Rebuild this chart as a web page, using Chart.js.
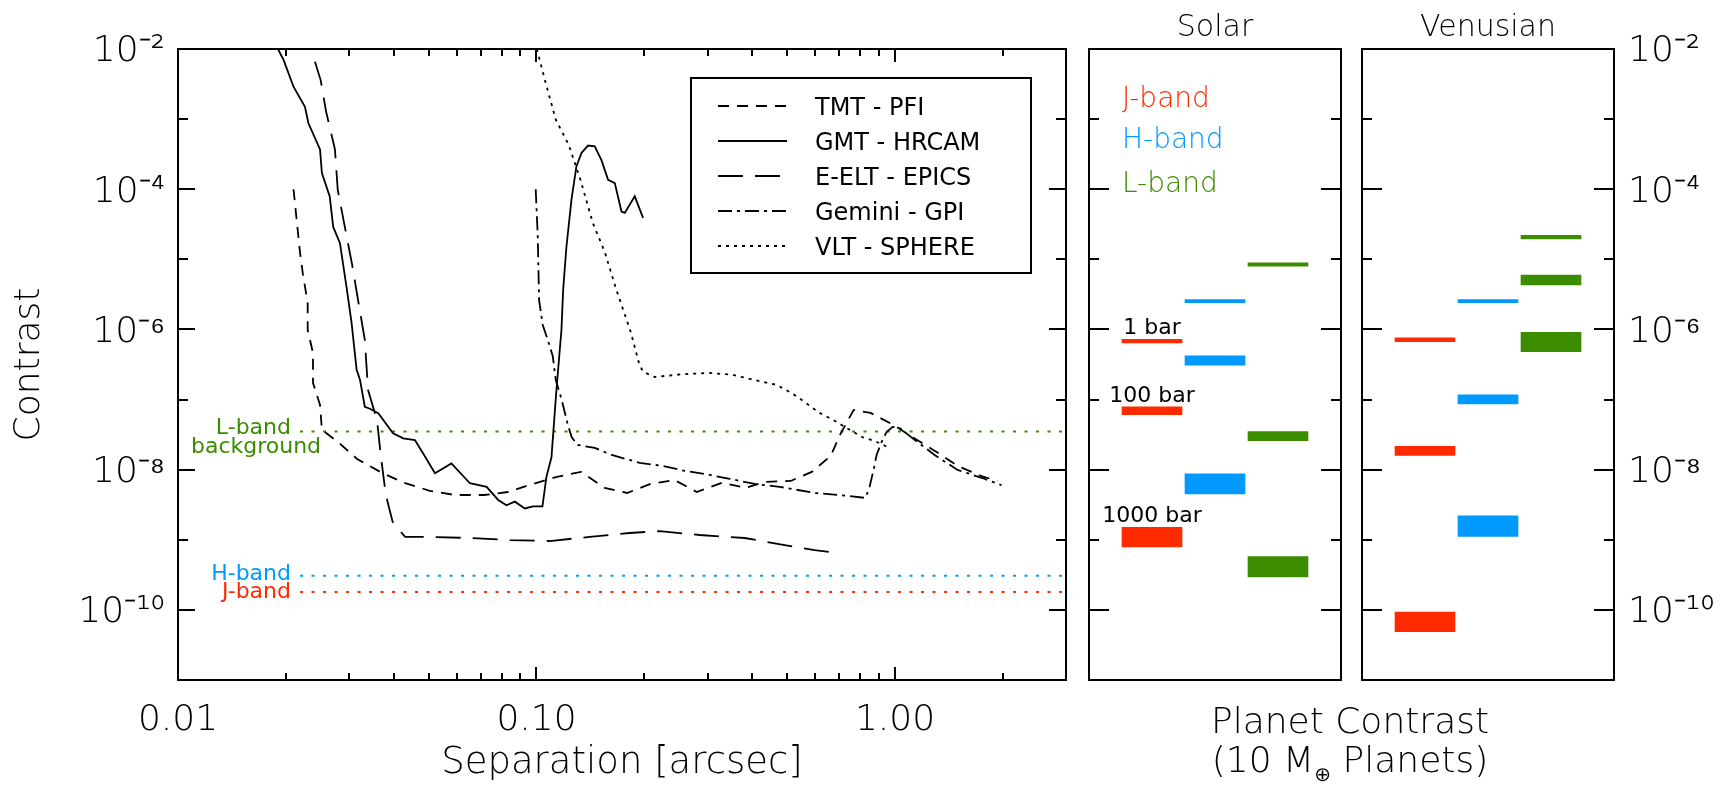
<!DOCTYPE html>
<html>
<head>
<meta charset="utf-8">
<script src="https://cdn.jsdelivr.net/npm/chart.js@4.4.1/dist/chart.umd.min.js"></script>
<style>
html,body{margin:0;padding:0;background:#fff;}
#wrap{position:relative;width:1730px;height:788px;background:#fff;}
canvas{position:absolute;left:0;top:0;}
</style>
</head>
<body>
<div id="wrap">
<canvas id="main" width="1730" height="788"></canvas>
<canvas id="solar" width="1730" height="788"></canvas>
<canvas id="venus" width="1730" height="788"></canvas>
</div>
<script>
// ---------------- data ----------------
const tmtSep = [0.0210,0.0219,0.0223,0.0230,0.0230,0.0238,0.0238,0.0249,0.0252,0.0279,0.0316,0.0371,0.0427,0.0504,0.0592,0.0713,0.0832,0.0976,0.114,0.133,0.155,0.179,0.208,0.243,0.280,0.329,0.383,0.433,0.512,0.586,0.662,0.706,0.767,0.855,0.991,1.127,1.306,1.495,1.744,1.93];
const tmtContrast = [1.0e-4,1.24e-5,6.2e-6,2.4e-6,9.9e-7,4.6e-7,1.73e-7,8.4e-8,3.7e-8,2.5e-8,1.42e-8,9.0e-9,6.5e-9,5.0e-9,4.35e-9,4.35e-9,4.8e-9,6.25e-9,7.9e-9,9.3e-9,5.5e-9,4.65e-9,6.25e-9,7.1e-9,4.8e-9,6.5e-9,5.5e-9,6.7e-9,6.9e-9,9.3e-9,1.57e-8,3.3e-8,7.1e-8,6.45e-8,4.35e-8,2.84e-8,1.79e-8,1.13e-8,8.1e-9,6.9e-9];

const gmtSep = [0.0190,0.0197,0.0210,0.0226,0.0231,0.0249,0.0252,0.0265,0.0271,0.0283,0.0295,0.0305,0.0315,0.0322,0.0332,0.0343,0.0362,0.0398,0.0425,0.0458,0.0483,0.0521,0.0579,0.0652,0.0726,0.0782,0.0825,0.0870,0.0928,0.0978,0.1039,0.1066,0.1101,0.1137,0.1174,0.1187,0.1212,0.1252,0.1292,0.1335,0.1393,0.1454,0.1518,0.1584,0.1654,0.1726,0.1763,0.1880,0.1983];
const gmtContrast = [1e-2,7.0e-3,2.9e-3,1.5e-3,8.8e-4,3.7e-4,1.7e-4,7.9e-5,2.9e-5,1.7e-5,4.1e-6,1.23e-6,2.65e-7,1.9e-7,7.9e-8,7.4e-8,6.4e-8,3.3e-8,2.8e-8,2.65e-8,1.7e-8,8.9e-9,1.23e-8,6.4e-9,5.7e-9,3.7e-9,3.1e-9,3.5e-9,2.8e-9,3.0e-9,3.0e-9,7.9e-9,1.5e-8,1.4e-7,9.9e-7,3.7e-6,1.5e-5,7.1e-5,2.1e-4,3.3e-4,4.2e-4,4.1e-4,2.6e-4,1.36e-4,1.22e-4,4.8e-5,4.6e-5,7.9e-5,3.9e-5];

const eeltSep = [0.0241,0.0250,0.0259,0.0274,0.0279,0.0292,0.0306,0.0318,0.0332,0.0339,0.0359,0.0368,0.0380,0.0397,0.0430,0.0504,0.0652,0.0843,0.1089,0.1408,0.1820,0.2207,0.2853,0.3808,0.4923,0.5970,0.6875];
const eeltContrast = [6.6e-3,3.6e-3,1.27e-3,3.7e-4,9.8e-5,2.9e-5,8.4e-6,2.6e-6,7.1e-7,1.37e-7,5.1e-8,1.57e-8,4.35e-9,1.8e-9,1.10e-9,1.10e-9,1.06e-9,9.9e-10,9.6e-10,1.10e-9,1.25e-9,1.33e-9,1.17e-9,1.06e-9,8.4e-10,7.1e-10,6.5e-10];

const gpiSep = [0.0995,0.1008,0.1017,0.1041,0.1075,0.1110,0.1132,0.1176,0.1223,0.1254,0.1303,0.1454,0.1622,0.1941,0.2250,0.2591,0.2946,0.3459,0.4061,0.4768,0.5970,0.7008,0.8280,0.8495,0.8716,0.8887,0.9176,0.9476,0.9847,1.030,1.098,1.290,1.495,1.754,1.983];
const gpiContrast = [1.0e-4,2.2e-5,2.6e-6,1.16e-6,7.1e-7,4.2e-7,1.9e-7,9.9e-8,4.35e-8,2.9e-8,2.25e-8,2.04e-8,1.62e-8,1.25e-8,1.13e-8,9.6e-9,8.7e-9,7.4e-9,6.25e-9,5.7e-9,4.65e-9,4.35e-9,3.95e-9,5.7e-9,9.9e-9,1.62e-8,2.48e-8,3.45e-8,4.07e-8,3.94e-8,3.03e-8,1.62e-8,9.9e-9,7.6e-9,6.0e-9];

const sphereSep = [0.1002,0.1055,0.1132,0.1230,0.1329,0.1436,0.1550,0.1664,0.1832,0.1929,0.1979,0.2137,0.2558,0.3042,0.3526,0.4061,0.4677,0.5149,0.5635,0.6163,0.6786,0.7471,0.8124,0.8773,0.9658];
const sphereContrast = [1.0e-2,3.65e-3,9.8e-4,4.3e-4,1.32e-4,3.3e-5,1.28e-5,3.9e-6,9.2e-7,3.4e-7,2.5e-7,2.1e-7,2.3e-7,2.4e-7,2.25e-7,1.9e-7,1.62e-7,1.24e-7,9.0e-8,6.45e-8,5.0e-8,3.7e-8,2.9e-8,2.57e-8,2.04e-8];

const instrumentNames = ['TMT - PFI','GMT - HRCAM','E-ELT - EPICS','Gemini - GPI','VLT - SPHERE'];

// horizontal limits (contrast) and their separation span
const bandLineSep = [0.0219, 3.0];
const lBandBackground = 3.5e-8;
const hBandLimit = 3.07e-10;
const jBandLimit = 1.8e-10;

// planet contrast panels: [low, high] for J, H, L bands
const bandNames = ['J-band','H-band','L-band'];
const bandSlots = [1, 2, 3];
const pressureNames = ['1 bar','100 bar','1000 bar'];
const solar1bar    = [[6.4e-7, 7.2e-7], [2.4e-6, 2.67e-6], [8.0e-6, 8.9e-6]];
const solar100bar  = [[6.1e-8, 7.9e-8], [3.1e-7, 4.2e-7], [2.6e-8, 3.5e-8]];
const solar1000bar = [[7.9e-10, 1.5e-9], [4.5e-9, 8.7e-9], [2.95e-10, 5.75e-10]];
const venus1bar    = [[6.7e-7, 7.6e-7], [2.4e-6, 2.67e-6], [1.96e-5, 2.2e-5]];
const venus100bar  = [[1.6e-8, 2.16e-8], [8.7e-8, 1.17e-7], [4.3e-6, 5.96e-6]];
const venus1000bar = [[4.9e-11, 9.3e-11], [1.12e-9, 2.2e-9], [4.8e-7, 9.1e-7]];

const xTickValues = [0.01,0.02,0.03,0.04,0.05,0.06,0.07,0.08,0.09,0.1,0.2,0.3,0.4,0.5,0.6,0.7,0.8,0.9,1,2,3];
const xTickLabels = {'0.01':'0.01','0.1':'0.10','1':'1.00'};
const yExponents = [-11,-10,-9,-8,-7,-6,-5,-4,-3,-2];

// ---------------- styling ----------------
const FONT = "'DejaVu Sans', sans-serif";
const W = '200';      // thin weight for large text
const WS = '400';     // regular weight for small text
Chart.defaults.font.family = FONT;
Chart.defaults.font.weight = W;
Chart.defaults.color = '#000';
const RED = '#ff2a00', BLUE = '#0099ff', GREEN = '#3c8c00';
const bandColors = [RED, BLUE, GREEN];
const dashes = [[11,8], [], [25,12], [14,5,3,5], [3,5]];

const SUP = {'-':'\u207B','0':'\u2070','1':'\u00B9','2':'\u00B2','3':'\u00B3','4':'\u2074','5':'\u2075','6':'\u2076','7':'\u2077','8':'\u2078','9':'\u2079'};
function yLabel(v){
  const e = Math.round(Math.log10(v));
  if (e % 2 !== 0) return '';
  return '10' + String(e).split('').map(c => SUP[c]).join('');
}
function pairs(xs, ys){ const n = Math.min(xs.length, ys.length); const out=[]; for(let i=0;i<n;i++) out.push({x:xs[i], y:ys[i]}); return out; }
const yTicks = () => yExponents.map(e => ({value: Number('1e' + e)}));

function drawFrame(chart, yMaj, yMin, withX){
  const {ctx, chartArea:a, scales} = chart;
  ctx.save();
  ctx.strokeStyle = '#000'; ctx.lineWidth = 2; ctx.setLineDash([]);
  ctx.beginPath();
  for (let e = -10; e <= -3; e++){
    const py = Math.round(scales.y.getPixelForValue(Number('1e'+e)));
    const len = (e % 2 === 0) ? yMaj : yMin;
    ctx.moveTo(a.left, py); ctx.lineTo(a.left + len, py);
    ctx.moveTo(a.right, py); ctx.lineTo(a.right - len, py);
  }
  if (withX){
    xTickValues.forEach(v => {
      if (v <= 0.01 || v >= 3) return;
      const px = Math.round(scales.x.getPixelForValue(v));
      const len = (v === 0.1 || v === 1) ? 13 : 7;
      ctx.moveTo(px, a.bottom); ctx.lineTo(px, a.bottom - len);
      ctx.moveTo(px, a.top); ctx.lineTo(px, a.top + len);
    });
  }
  ctx.stroke();
  ctx.strokeRect(Math.round(a.left), Math.round(a.top), Math.round(a.right - a.left), Math.round(a.bottom - a.top));
  ctx.restore();
}

function text(ctx, s, x, y, size, color, align, weight){
  ctx.font = (weight || W) + ' ' + size + 'px ' + FONT;
  ctx.fillStyle = color || '#000';
  ctx.textAlign = align || 'left';
  ctx.textBaseline = 'alphabetic';
  ctx.fillText(s, x, y);
}

// ---------------- main chart ----------------
const mainDecor = {
  id: 'mainDecor',
  afterDraw(chart){
    const ctx = chart.ctx;
    drawFrame(chart, 17, 10, true);
    // legend
    ctx.save();
    ctx.lineWidth = 2; ctx.strokeStyle = '#000';
    ctx.strokeRect(691, 78, 340, 195);
    instrumentNames.forEach((name, i) => {
      const cy = 106 + i * 35;
      ctx.setLineDash(dashes[i]);
      ctx.beginPath(); ctx.moveTo(718, cy); ctx.lineTo(787, cy); ctx.stroke();
      ctx.setLineDash([]);
      text(ctx, name, 815, cy + 8.5, 24, '#000', 'left', WS);
    });
    // band annotations
    const y = chart.scales.y;
    const yL = y.getPixelForValue(lBandBackground);
    const yH = y.getPixelForValue(hBandLimit);
    const yJ = y.getPixelForValue(jBandLimit);
    text(ctx, 'L-band', 291, yL + 2, 22, GREEN, 'right', WS);
    text(ctx, 'background', 256, yL + 21, 22, GREEN, 'center', WS);
    text(ctx, 'H-band', 291, yH + 4.5, 22, BLUE, 'right', WS);
    text(ctx, 'J-band', 291, yJ + 6.5, 22, RED, 'right', WS);
    ctx.restore();
  }
};

const instrumentData = [[tmtSep,tmtContrast],[gmtSep,gmtContrast],[eeltSep,eeltContrast],[gpiSep,gpiContrast],[sphereSep,sphereContrast]];
const mainDatasets = instrumentData.map((d, i) => ({
  label: instrumentNames[i], data: pairs(d[0], d[1]),
  borderColor: '#000', borderWidth: 1.8, borderDash: dashes[i]
}));
[[lBandBackground, GREEN, 'L-band background'], [hBandLimit, BLUE, 'H-band'], [jBandLimit, RED, 'J-band']].forEach(([v, c, l]) => {
  mainDatasets.push({label: l, data: bandLineSep.map(s => ({x: s, y: v})), borderColor: c, borderWidth: 2, borderDash: [3, 8.5]});
});

new Chart(document.getElementById('main'), {
  type: 'line',
  data: {datasets: mainDatasets},
  options: {
    responsive: false, animation: false, devicePixelRatio: 1,
    elements: {point: {radius: 0}, line: {tension: 0, fill: false, borderCapStyle: 'butt'}},
    layout: {padding: {left: 0, top: 49, right: 664, bottom: 0}},
    plugins: {legend: {display: false}, tooltip: {enabled: false}, title: {display: false}},
    scales: {
      x: {
        type: 'logarithmic', min: 0.01, max: 3, position: 'bottom',
        afterFit: s => { s.height = 108; },
        afterBuildTicks: s => { s.ticks = xTickValues.map(v => ({value: v})); },
        ticks: {autoSkip: false, maxRotation: 0, minRotation: 0, padding: 19, font: {size: 36, weight: W},
                callback: v => xTickLabels[String(v)] || ''},
        grid: {display: false, drawTicks: false}, border: {display: false},
        title: {display: true, text: 'Separation [arcsec]', font: {size: 37, weight: W}, padding: {top: 0, bottom: 2}}
      },
      y: {
        type: 'logarithmic', min: 1e-11, max: 1e-2, position: 'left',
        afterFit: s => { s.width = 178; },
        afterBuildTicks: s => { s.ticks = yTicks(); },
        ticks: {autoSkip: false, padding: 13, labelOffset: 3, font: {size: 36, weight: W}, callback: v => yLabel(v)},
        grid: {display: false, drawTicks: false}, border: {display: false},
        title: {display: true, text: 'Contrast', font: {size: 36, weight: W}, padding: {top: 8, bottom: 0}}
      }
    }
  },
  plugins: [mainDecor]
});

// ---------------- planet panels ----------------
function panelDatasets(rows){
  return rows.map((row, k) => ({
    label: pressureNames[k],
    data: row.map((r, i) => ({x: bandSlots[i], y: r})),
    backgroundColor: bandColors, borderWidth: 0,
    grouped: false, barThickness: 60
  }));
}

function panelDecor(title, rows, showBandNames, showPressure, bottomText){
  return {
    id: 'panel' + title,
    afterDraw(chart){
      const ctx = chart.ctx, a = chart.chartArea;
      drawFrame(chart, 20, 10, false);
      ctx.save();
      text(ctx, title, (a.left + a.right) / 2, 36, 30, '#000', 'center');
      if (showBandNames){
        const bl = [106.5, 148, 191.5];
        bandNames.forEach((b, i) => text(ctx, b, 1122, bl[i], 28, bandColors[i], 'left'));
      }
      if (showPressure){
        const cx = chart.scales.x.getPixelForValue(bandSlots[0]);
        rows.forEach((row, k) => {
          const top = chart.scales.y.getPixelForValue(row[0][1]);
          text(ctx, pressureNames[k], cx, top - 5, 22, '#000', 'center', WS);
        });
      }
      if (bottomText){
        const cx = 1350;
        text(ctx, 'Planet Contrast', cx, 733, 36, '#000', 'center');
        // (10 M⊕ Planets)
        ctx.font = W + ' 36px ' + FONT;
        const p1 = '(10 M', p3 = ' Planets)';
        const w1 = ctx.measureText(p1).width, w3 = ctx.measureText(p3).width;
        ctx.font = W + ' 20px ' + FONT;
        const w2 = ctx.measureText('\u2295').width;
        const x0 = cx - (w1 + w2 + w3) / 2;
        text(ctx, p1, x0, 772, 36, '#000', 'left');
        text(ctx, '\u2295', x0 + w1, 781, 20, '#000', 'left', WS);
        text(ctx, p3, x0 + w1 + w2, 772, 36, '#000', 'left');
      }
      ctx.restore();
    }
  };
}

function panelChart(id, rows, pad, rightAxis, decor){
  return new Chart(document.getElementById(id), {
    type: 'bar',
    data: {datasets: panelDatasets(rows)},
    options: {
      responsive: false, animation: false, devicePixelRatio: 1,
      layout: {padding: pad},
      plugins: {legend: {display: false}, tooltip: {enabled: false}},
      scales: {
        x: {type: 'linear', min: 0, max: 4, offset: false, display: false},
        y: rightAxis ? {
          type: 'logarithmic', min: 1e-11, max: 1e-2, position: 'right',
          afterFit: s => { s.width = 116; },
          afterBuildTicks: s => { s.ticks = yTicks(); },
          ticks: {autoSkip: false, padding: 14, labelOffset: 3, font: {size: 36, weight: W}, callback: v => yLabel(v)},
          grid: {display: false, drawTicks: false}, border: {display: false}
        } : {type: 'logarithmic', min: 1e-11, max: 1e-2, display: false}
      }
    },
    plugins: [decor]
  });
}

const solarRows = [solar1bar, solar100bar, solar1000bar];
const venusRows = [venus1bar, venus100bar, venus1000bar];
panelChart('solar', solarRows, {left: 1089, right: 389, top: 49, bottom: 108}, false,
  panelDecor('Solar', solarRows, true, true, false));
panelChart('venus', venusRows, {left: 1362, right: 0, top: 49, bottom: 108}, true,
  panelDecor('Venusian', venusRows, false, false, true));
</script>
</body>
</html>
